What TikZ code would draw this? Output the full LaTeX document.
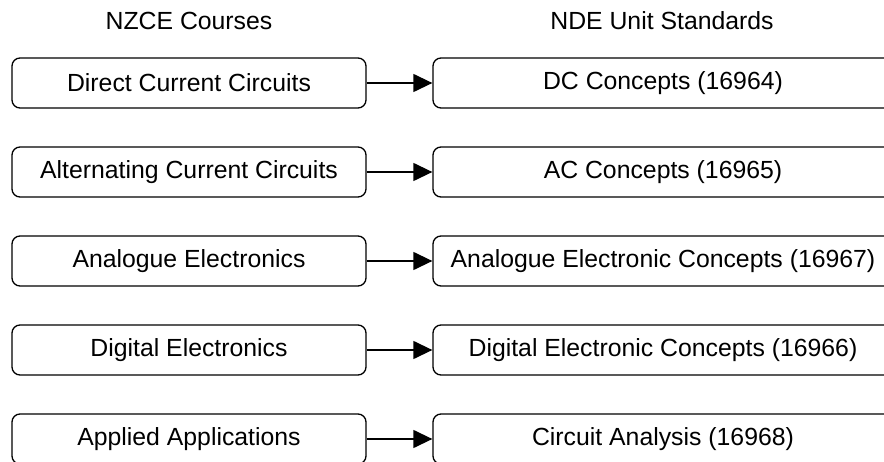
\documentclass[tikz,border=0pt]{standalone}
\usepackage{fontspec}
\setmainfont{Liberation Sans}
\usetikzlibrary{arrows.meta}
\begin{document}
\begin{tikzpicture}[x=1pt,y=-1pt,
  course/.style={draw=black,line width=1.3pt,rounded corners=8pt,minimum height=50pt,
    inner sep=0pt,font=\fontsize{24.8}{29}\selectfont},
  leftbox/.style={course,minimum width=354pt},
  rightbox/.style={course,minimum width=460pt},
  header/.style={inner sep=0pt,font=\fontsize{24.8}{29}\selectfont},
  link/.style={line width=1.3pt,-{Triangle[length=19pt,width=18pt]}}]
\useasboundingbox (0,0) rectangle (884,462);
\clip (0,0) rectangle (884,462);
\node[header] (hl) at (189,21) {NZCE Courses};
\node[header] (hr) at (662,21) {NDE Unit Standards};
\foreach \i/\l/\r in {0/Direct Current Circuits/DC Concepts (16964),
                      1/Alternating Current Circuits/AC Concepts (16965),
                      2/Analogue Electronics/Analogue Electronic Concepts (16967),
                      3/Digital Electronics/Digital Electronic Concepts (16966),
                      4/Applied Applications/Circuit Analysis (16968)}{
  \node[leftbox] (l\i) at (189,83+89*\i) {\l};
  \node[rightbox] (r\i) at (663,83+89*\i) {\r};
  \draw[link] (l\i) -- (r\i);
}
\end{tikzpicture}
\end{document}
